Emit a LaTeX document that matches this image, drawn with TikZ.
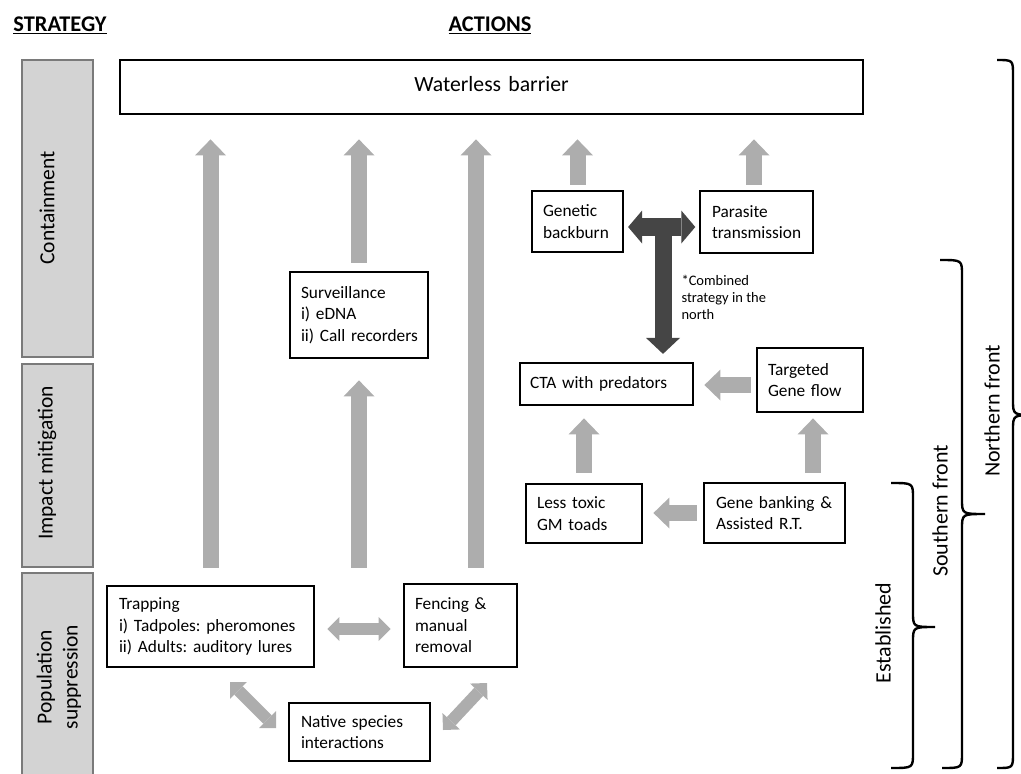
\documentclass[tikz,border=0pt]{standalone}
\usepackage{fontspec}
\setmainfont{Carlito}
\frenchspacing
\usetikzlibrary{arrows.meta}
\definecolor{garrowc}{HTML}{ADADAD}
\definecolor{darrowc}{HTML}{454545}
\definecolor{sfill}{HTML}{D3D3D3}
\definecolor{sdraw}{HTML}{7A7A7A}
\begin{document}
\begin{tikzpicture}[x=1pt,y=-1pt,
  box/.style={draw=black, line width=2.8pt, fill=white, inner xsep=11pt, inner ysep=0pt,
    align=left, font=\fontsize{17.3}{21.5}\selectfont},
  stratbox/.style={draw=sdraw, fill=sfill, line width=1.4pt},
  stratlabel/.style={rotate=90, align=center, font=\fontsize{21.5}{26}\selectfont},
  header/.style={font=\bfseries\fontsize{22.4}{26}\selectfont},
  bracelabel/.style={rotate=90, font=\fontsize{22}{26}\selectfont},
  brace/.style={draw=black, line width=2.4pt},
  garrow/.style={draw=garrowc, line width=16pt, -{Triangle[length=16pt,width=31pt,line width=0pt]}},
  garrowdbl/.style={draw=garrowc, line width=12pt, {Triangle[length=12pt,width=24pt,line width=0pt]}-{Triangle[length=12pt,width=24pt,line width=0pt]}},
  darrow/.style={draw=darrowc, line width=17pt, -{Triangle[length=16pt,width=34pt,line width=0pt]}},
  darrowdbl/.style={draw=darrowc, line width=18pt, {Triangle[length=14pt,width=33pt,line width=0pt]}-{Triangle[length=14pt,width=33pt,line width=0pt]}},
  note/.style={align=left, anchor=west, font=\fontsize{14.5}{17}\selectfont}
]
\useasboundingbox (0,0) rectangle (1021,774);

% headers
\node[header] (hstrat) at (60,25) {\underline{STRATEGY}};
\node[header] (hact) at (490,25) {\underline{ACTIONS}};

% strategy column
\node[stratbox, minimum width=71pt, minimum height=297pt] (scont) at (57.5,208.5) {};
\node[stratbox, minimum width=71pt, minimum height=203pt] (simp) at (57.5,465.5) {};
\node[stratbox, minimum width=71pt, minimum height=205pt] (spop) at (57.5,675.5) {};
\node[stratlabel] (lcont) at (47,208) {Containment};
\node[stratlabel] (limp) at (47,463) {Impact mitigation};
\node[stratlabel] (lpop) at (59,677) {Population\\suppression};

% action boxes
\node[box, align=center, minimum width=743pt, minimum height=54pt, text width=721pt,
  font=\fontsize{21.7}{26}\selectfont] (wb) at (491.5,87) {\raisebox{7pt}{Waterless barrier}};
\node[box, minimum width=138pt, minimum height=86pt, text width=116pt] (surv) at (359,315)
  {\mbox{Surveillance}\\\mbox{i) eDNA}\\\mbox{ii) Call recorders}};
\node[box, minimum width=207pt, minimum height=81pt, inner xsep=12pt, text width=183pt] (trap) at (210.5,626.5)
  {\mbox{Trapping}\\\mbox{i) Tadpoles: pheromones}\\\mbox{ii) Adults: auditory lures}};
\node[box, minimum width=113pt, minimum height=83pt, text width=91pt] (fence) at (460.5,625.5)
  {\mbox{Fencing \&}\\\mbox{manual}\\\mbox{removal}};
\node[box, minimum width=141pt, minimum height=58pt, inner xsep=12pt, text width=117pt] (native) at (359.5,732)
  {\mbox{Native species}\\\mbox{interactions}};
\node[box, minimum width=91pt, minimum height=61pt, text width=69pt] (gb) at (577.5,221.5)
  {\mbox{Genetic}\\\mbox{backburn}};
\node[box, minimum width=113pt, minimum height=62pt, inner xsep=12pt, text width=89pt] (para) at (756.5,222)
  {\mbox{Parasite}\\\mbox{transmission}};
\node[box, minimum width=173pt, minimum height=42pt, inner xsep=10pt, text width=153pt] (cta) at (606.5,384)
  {\mbox{CTA with predators}};
\node[box, minimum width=106pt, minimum height=64pt, text width=84pt] (tgf) at (810,380)
  {\mbox{Targeted}\\\mbox{Gene flow}};
\node[box, minimum width=116pt, minimum height=59pt, text width=94pt] (less) at (584,513.5)
  {\mbox{Less toxic}\\\mbox{GM toads}};
\node[box, minimum width=141pt, minimum height=60pt, inner xsep=12pt, text width=117pt] (gbank) at (774.5,513)
  {\mbox{Gene banking \&}\\\mbox{Assisted R.T.}};

\node[note] (comb) at (678,297) {*Combined\\strategy in the\\north};

% grey arrows
\draw[garrow, shorten <=17pt, shorten >=24pt] (trap.north) -- (trap.north |- wb.south);
\draw[garrow, shorten <=8pt, shorten >=24pt] (surv.north) -- (surv.north |- wb.south);
\draw[garrow, shorten <=17pt, shorten >=21pt] (surv.south |- trap.north) -- (surv.south);
\draw[garrow, shorten <=15pt, shorten >=24pt] ([xshift=15.5pt]fence.north) -- ([xshift=15.5pt]fence.north |- wb.south);
\draw[garrow, shorten <=5pt, shorten >=24pt] (gb.north) -- (gb.north |- wb.south);
\draw[garrow, shorten <=5pt, shorten >=24pt] ([xshift=-2.5pt]para.north) -- ([xshift=-2.5pt]para.north |- wb.south);
\draw[garrow, shorten <=5pt, shorten >=10pt] ([yshift=-1pt]tgf.west |- cta.east) -- ([yshift=-1pt]cta.east);
\draw[garrow, shorten <=10pt, shorten >=12pt] (less.north) -- (less.north |- cta.south);
\draw[garrow, shorten <=9pt, shorten >=5pt] ([xshift=3pt]tgf.south |- gbank.north) -- ([xshift=3pt]tgf.south);
\draw[garrow, shorten <=6pt, shorten >=10pt] (gbank.west) -- (less.east |- gbank.west);
\draw[garrowdbl, shorten <=12pt, shorten >=12pt] ([yshift=-2.5pt]trap.east) -- ([yshift=-2.5pt]fence.west |- trap.east);

\coordinate (d1a) at (230,682);
\coordinate (d1b) at (276,728);
\coordinate (d2a) at (443,730);
\coordinate (d2b) at (487,683);
\draw[garrowdbl] (d1a) -- (d1b);
\draw[garrowdbl] (d2a) -- (d2b);

% dark combined arrow
\coordinate (tj) at (663,227);
\draw[darrowdbl, shorten <=3.7pt, shorten >=3.3pt] ([yshift=-5.5pt]gb.east) -- ([yshift=-5pt]para.west);
\draw[darrow, shorten >=7.7pt] (tj) -- (tj |- cta.north);

% braces
\draw[brace] (891,483) .. controls (913,483) and (913,483) .. (913,498) -- (913,612)
  .. controls (913,627) and (913,627) .. (935,627)
  .. controls (913,627) and (913,627) .. (913,642) -- (913,753)
  .. controls (913,768) and (913,768) .. (891,768);
\draw[brace] (940,260) .. controls (962,260) and (962,260) .. (962,275) -- (962,499)
  .. controls (962,514) and (962,514) .. (985,514)
  .. controls (962,514) and (962,514) .. (962,529) -- (962,753)
  .. controls (962,768) and (962,768) .. (942,768);
\draw[brace] (997,60) .. controls (1013,60) and (1013,60) .. (1013,75) -- (1013,400)
  .. controls (1013,415) and (1013,415) .. (1036,415)
  .. controls (1013,415) and (1013,415) .. (1013,430) -- (1013,753)
  .. controls (1013,768) and (1013,768) .. (997,768);
\node[bracelabel] (lest) at (883,633) {Established};
\node[bracelabel] (lsouth) at (940,511) {Southern front};
\node[bracelabel] (lnorth) at (992,411) {Northern front};
\end{tikzpicture}
\end{document}
